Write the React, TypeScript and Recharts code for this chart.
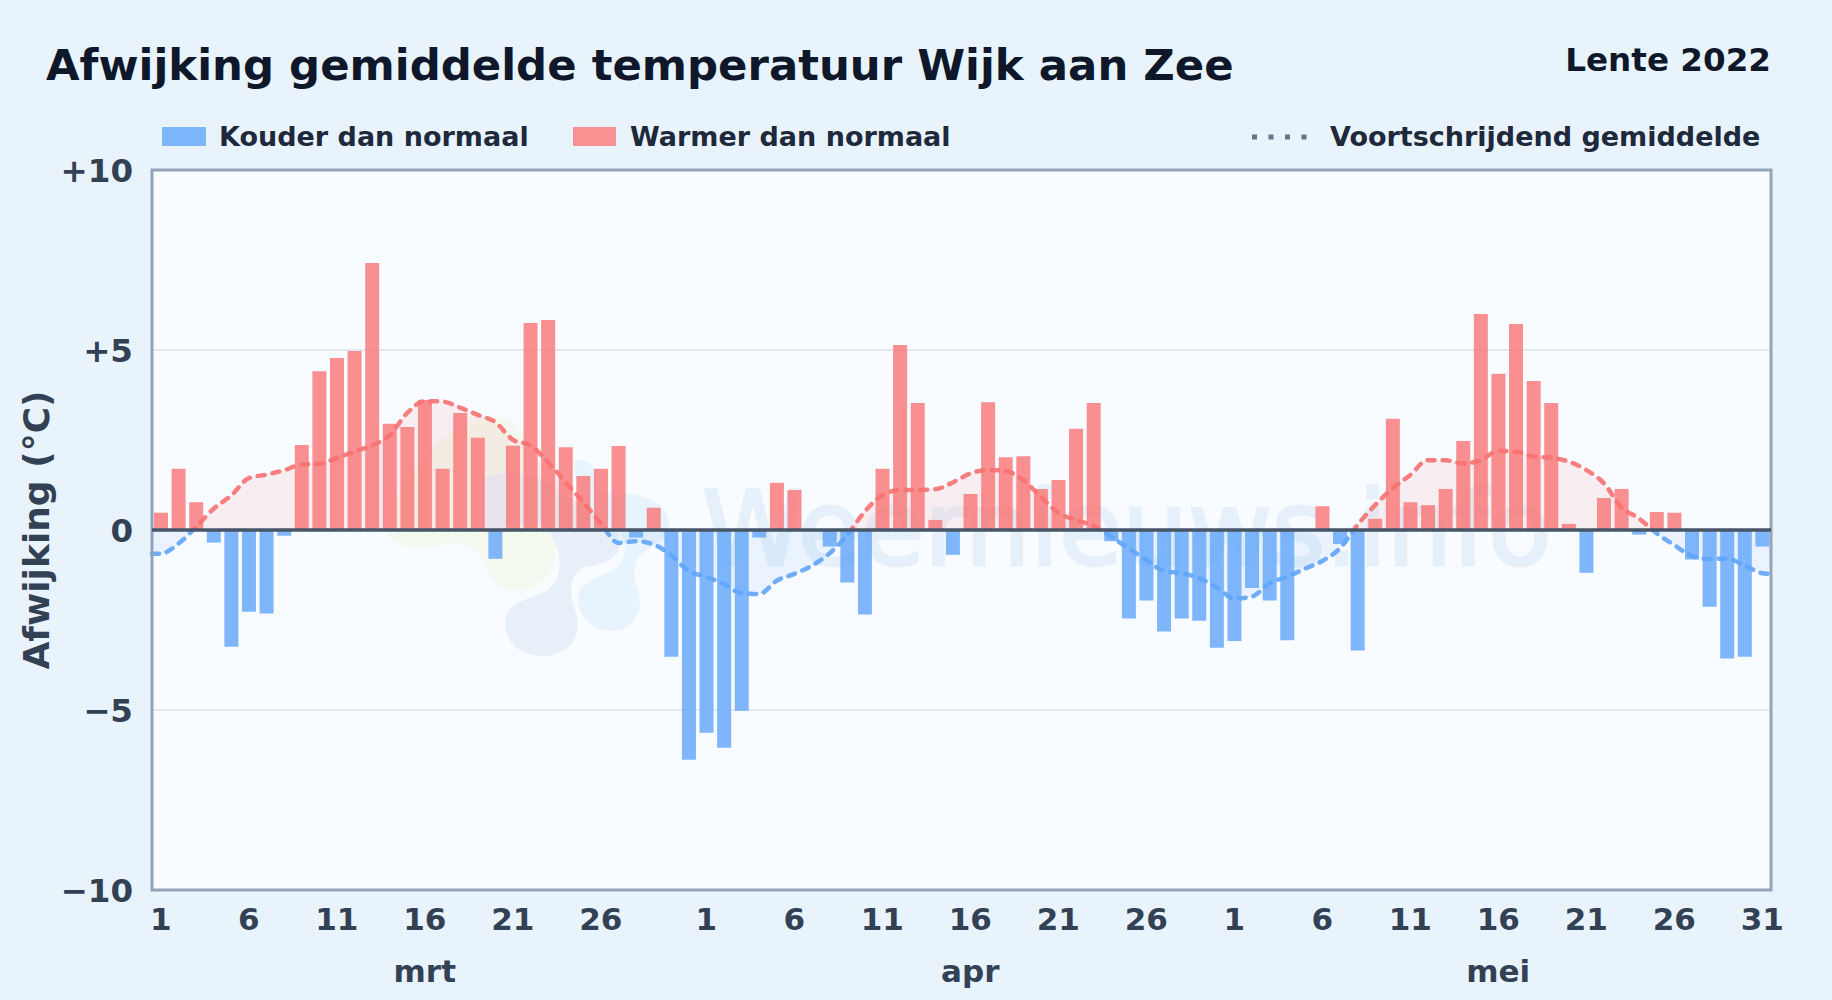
import React from 'react';
import { ComposedChart, Bar, Area, XAxis, YAxis, CartesianGrid, ReferenceLine, ReferenceArea } from 'recharts';

const months = ['mrt', 'apr', 'mei'];
const monthLengths = [31, 30, 31];
const tickDays = [1, 6, 11, 16, 21, 26, 31];
const yTicks = [-10, -5, 0, 5, 10];
const monthLabelDay = 16;

const marchDeviation = [0.48, 1.7, 0.77, -0.35, -3.24, -2.27, -2.32, -0.16, 2.36, 4.41, 4.78, 4.97, 7.42, 2.95, 2.86, 3.61, 1.7, 3.25, 2.56, -0.8, 2.34, 5.75, 5.83, 2.3, 1.5, 1.7, 2.33, -0.21, 0.62, -3.52, -6.38];
const aprilDeviation = [-5.63, -6.05, -5.02, -0.21, 1.31, 1.11, 0, -0.46, -1.46, -2.35, 1.7, 5.14, 3.53, 0.28, -0.69, 1.0, 3.55, 2.02, 2.05, 1.14, 1.39, 2.81, 3.53, -0.31, -2.46, -1.96, -2.82, -2.46, -2.52, -3.27];
const mayDeviation = [-3.08, -1.61, -1.96, -3.06, 0, 0.66, -0.39, -3.35, 0.31, 3.09, 0.77, 0.69, 1.14, 2.47, 6.0, 4.34, 5.72, 4.14, 3.53, 0.17, -1.19, 0.89, 1.14, -0.13, 0.5, 0.48, -0.82, -2.13, -3.57, -3.52, -0.46];

const marchAverage = [-0.66, -0.38, 0.08, 0.59, 0.96, 1.44, 1.54, 1.66, 1.82, 1.84, 2.0, 2.18, 2.35, 2.63, 3.25, 3.58, 3.57, 3.4, 3.2, 3.0, 2.51, 2.35, 1.89, 1.33, 0.78, 0.19, -0.36, -0.31, -0.4, -0.7, -1.14];
const aprilAverage = [-1.3, -1.5, -1.76, -1.78, -1.41, -1.22, -0.99, -0.65, -0.14, 0.51, 0.97, 1.11, 1.11, 1.13, 1.32, 1.57, 1.67, 1.64, 1.39, 0.93, 0.48, 0.28, 0.11, -0.19, -0.51, -0.83, -1.14, -1.2, -1.34, -1.59];
const mayAverage = [-1.9, -1.85, -1.48, -1.3, -1.08, -0.86, -0.51, 0.14, 0.69, 1.16, 1.53, 1.94, 1.94, 1.85, 1.94, 2.2, 2.18, 2.04, 2.01, 1.9, 1.67, 1.3, 0.63, 0.32, -0.09, -0.42, -0.72, -0.81, -0.79, -0.99, -1.2];
const averageAtStart = -0.66;
const averageAtEnd = -1.22;

const deviations = [...marchDeviation, ...aprilDeviation, ...mayDeviation];
const averages = [...marchAverage, ...aprilAverage, ...mayAverage];

const dayRows: any[] = [];
const labelByX: Record<number, { day: number; month: string }> = {};
const xTicks: number[] = [];
{
  let n = 0;
  monthLengths.forEach((len, m) => {
    for (let d = 1; d <= len; d++) {
      const x = n + 0.5;
      const v = deviations[n];
      dayRows.push({ x, warm: v > 0 ? v : null, cold: v < 0 ? v : null });
      if (tickDays.includes(d) && !(d === 31 && m === 0)) {
        xTicks.push(x);
        labelByX[x] = { day: d, month: months[m] };
      }
      n++;
    }
  });
}
const totalDays = dayRows.length;
const averageRows = [{ ax: 0, average: averageAtStart }, ...averages.map((a, i) => ({ ax: i + 0.5, average: a })), { ax: totalDays, average: averageAtEnd }];

const FONT = '"DejaVu Sans", sans-serif';
const TICK = '#334155';
const W = 1832;
const H = 1000;
const PL = 152;
const PR = 1771;
const PT = 170;
const PB = 890;

const fmtY = (v: number) => (v > 0 ? `+${v}` : v < 0 ? `\u2212${-v}` : '0');

function DayTick(props: any) {
  const { x, y, payload } = props;
  const info = labelByX[payload.value];
  if (!info) return null;
  return (
    <g>
      <text x={x} y={y + 32} textAnchor="middle" fontFamily={FONT} fontWeight={700} fontSize={31} fill={TICK}>{info.day}</text>
      {info.day === monthLabelDay && (
        <text x={x} y={y + 84} textAnchor="middle" fontFamily={FONT} fontWeight={700} fontSize={31} fill={TICK}>{info.month}</text>
      )}
    </g>
  );
}

const abs = (o: any): any => ({ position: 'absolute', whiteSpace: 'nowrap', fontFamily: FONT, fontWeight: 700, ...o });

export default function App() {
  return (
    <div style={{ position: 'absolute', left: 0, top: 0, width: W, height: H, overflow: 'hidden', background: '#e9f3fc' }}>
      <div style={abs({ left: 46, top: 37, fontSize: 43.4, lineHeight: '56px', color: '#0f172a' })}>Afwijking gemiddelde temperatuur Wijk aan Zee</div>
      <div style={abs({ right: 61, top: 40, fontSize: 32.6, lineHeight: '40px', color: '#0f172a' })}>Lente 2022</div>

      <div style={abs({ left: 162, top: 127, width: 44, height: 19, background: '#7eb6fb' })} />
      <div style={abs({ left: 219, top: 120, fontSize: 27, lineHeight: '34px', color: '#1e293b' })}>Kouder dan normaal</div>
      <div style={abs({ left: 573, top: 127, width: 43, height: 19, background: '#f89292' })} />
      <div style={abs({ left: 630, top: 120, fontSize: 27, lineHeight: '34px', color: '#1e293b' })}>Warmer dan normaal</div>
      <svg style={abs({ left: 1250, top: 130, width: 60, height: 14 })}>
        <line x1={2} y1={7} x2={60} y2={7} stroke="#64748b" strokeWidth={5} strokeDasharray="5 11.5" />
      </svg>
      <div style={abs({ left: 1330, top: 120, fontSize: 27, lineHeight: '34px', color: '#1e293b' })}>Voortschrijdend gemiddelde</div>

      <svg width={W} height={H} style={{ position: 'absolute', left: 0, top: 0 }}>
        <rect x={PL} y={PT} width={PR - PL} height={PB - PT} fill="#f8fbff" />
        <g>
          <path d="M385 530 C395 480 440 425 490 416 C520 415 530 440 532 470 C540 500 560 520 555 550 C555 580 530 595 510 590 C485 585 485 545 460 543 C430 545 395 555 385 530 Z" fill="#f3f9ee" />
          <path d="M483 480 C500 468 530 470 560 490 C590 515 620 520 620 545 C618 560 600 565 585 567 C570 572 568 590 575 610 C585 640 565 656 542 656 C515 656 500 635 507 615 C512 600 535 598 548 590 C565 575 562 550 548 530 C530 515 500 530 483 530 Z" fill="#e7f0f9" />
          <path d="M575 460 C590 458 600 470 595 490 C610 495 640 490 660 505 C675 520 670 540 650 548 C635 555 630 570 638 590 C645 615 630 631 612 631 C590 630 578 615 578 598 C578 585 595 578 610 572 C625 565 630 545 618 530 C600 515 570 500 575 460 Z" fill="#e8f4fd" />
        </g>
        <text x={702} y={565} fontFamily={FONT} fontSize={103} fill="#e6f0fa" stroke="#e6f0fa" strokeWidth={3}>Weernieuws.info</text>
      </svg>

      <div style={{ position: 'absolute', left: 0, top: 0 }}>
        <ComposedChart width={W} height={H} data={dayRows} margin={{ top: PT, right: W - PR, bottom: 0, left: 0 }}>
          <defs>
            <linearGradient id="maStroke" gradientUnits="userSpaceOnUse" x1={0} x2={0} y1={PT} y2={PB}>
              <stop offset="50%" stopColor="#f87171" />
              <stop offset="50%" stopColor="#60a5fa" />
            </linearGradient>
            <linearGradient id="maFill" gradientUnits="userSpaceOnUse" x1={0} x2={0} y1={PT} y2={PB}>
              <stop offset="50%" stopColor="#f87171" stopOpacity={0.16} />
              <stop offset="50%" stopColor="#60a5fa" stopOpacity={0.16} />
            </linearGradient>
          </defs>
          <CartesianGrid xAxisId="days" horizontal vertical={false} stroke="#e2e8f0" strokeWidth={2} />
          <XAxis xAxisId="avg" type="number" dataKey="ax" domain={[0, totalDays]} hide height={0} allowDecimals />
          <XAxis xAxisId="days" type="number" dataKey="x" domain={[0, totalDays]} ticks={xTicks} interval={0} height={H - PB} axisLine={false} tickLine={false} tick={<DayTick />} allowDecimals />
          <YAxis
            type="number"
            domain={[-10, 10]}
            ticks={yTicks}
            width={PL}
            axisLine={false}
            tickLine={false}
            tickSize={0}
            tickMargin={19}
            tickFormatter={fmtY}
            tick={{ fontFamily: FONT, fontWeight: 700, fontSize: 32.5, fill: TICK }}
            label={{ value: 'Afwijking (\u00b0C)', angle: -90, position: 'insideLeft', offset: 36, style: { fontFamily: FONT, fontWeight: 700, fontSize: 36, fill: TICK, textAnchor: 'middle' } }}
          />
          <Bar xAxisId="days" dataKey="cold" stackId="d" barSize={14} fill="#60a5fa" fillOpacity={0.8} isAnimationActive={false} />
          <Bar xAxisId="days" dataKey="warm" stackId="d" barSize={14} fill="#f87171" fillOpacity={0.78} isAnimationActive={false} />
          <Area xAxisId="avg" data={averageRows} type="monotone" dataKey="average" baseValue={0} stroke="url(#maStroke)" strokeWidth={4.5} strokeOpacity={0.9} strokeDasharray="7 8" strokeLinecap="round" fill="url(#maFill)" dot={false} activeDot={false} isAnimationActive={false} />
          <ReferenceLine xAxisId="days" y={0} stroke="#475569" strokeWidth={3.5} />
          <ReferenceArea xAxisId="days" x1={0} x2={totalDays} y1={-10} y2={10} fill="none" stroke="#94a3b8" strokeWidth={3} />
        </ComposedChart>
      </div>
    </div>
  );
}
